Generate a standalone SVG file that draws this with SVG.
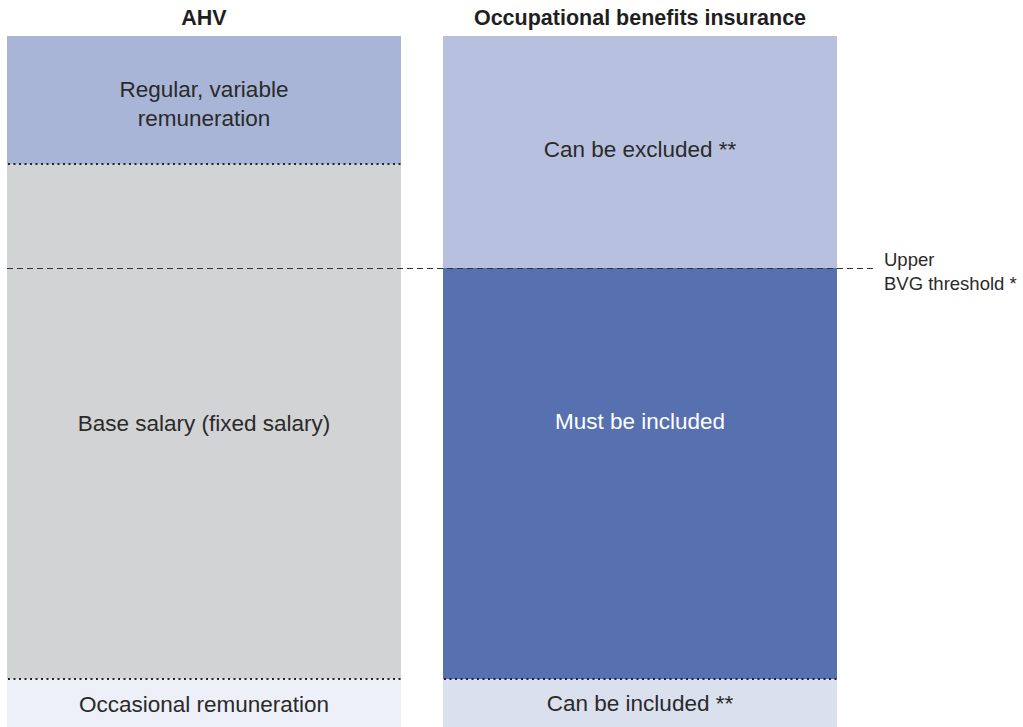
<svg xmlns="http://www.w3.org/2000/svg" width="1023" height="727" viewBox="0 0 1023 727">
  <style>
    .title { font-family: "Liberation Sans", Arial, sans-serif; font-size: 21.5px; font-weight: bold; fill: #1f1f1f; text-anchor: middle; }
    .label { font-family: "Liberation Sans", Arial, sans-serif; font-size: 22.5px; fill: #2a2a2a; text-anchor: middle; }
    .light { fill: #ffffff; }
    .note { font-family: "Liberation Sans", Arial, sans-serif; font-size: 18.5px; fill: #2a2a2a; }
    .dotted { stroke: #222; stroke-width: 2; stroke-dasharray: 2 3.5; fill: none; }
    .dashed { stroke: #333; stroke-width: 1; stroke-dasharray: 6 4; fill: none; }
  </style>
  <rect width="1023" height="727" fill="#ffffff"/>

  <text class="title" x="204" y="25">AHV</text>
  <text class="title" x="640" y="25">Occupational benefits insurance</text>

  <!-- AHV column -->
  <g id="ahv-variable">
    <rect x="7" y="36" width="394" height="128" fill="#a8b5d7"/>
    <text class="label" x="204" y="97">Regular, variable</text>
    <text class="label" x="204" y="126">remuneration</text>
  </g>
  <g id="ahv-base">
    <rect x="7" y="164" width="394" height="515" fill="#d2d3d5"/>
    <text class="label" x="204" y="431">Base salary (fixed salary)</text>
  </g>
  <g id="ahv-occasional">
    <rect x="7" y="679" width="394" height="48" fill="#edf0f8"/>
    <text class="label" x="204" y="712">Occasional remuneration</text>
  </g>

  <!-- Occupational benefits column -->
  <g id="bvg-excluded">
    <rect x="443" y="36" width="394" height="232" fill="#b7c1df"/>
    <text class="label" x="640" y="157">Can be excluded **</text>
  </g>
  <g id="bvg-mandatory">
    <rect x="443" y="268" width="394" height="411" fill="#5770b0"/>
    <text class="label light" x="640" y="429">Must be included</text>
  </g>
  <g id="bvg-included">
    <rect x="443" y="679" width="394" height="48" fill="#dbe0ee"/>
    <text class="label" x="640" y="711">Can be included **</text>
  </g>

  <!-- boundary lines -->
  <g id="connectors">
    <line class="dotted" x1="8" y1="164" x2="401" y2="164"/>
    <line class="dotted" x1="8" y1="679" x2="401" y2="679"/>
    <line class="dotted" x1="444" y1="679" x2="837" y2="679"/>
    <line class="dashed" x1="7" y1="268.5" x2="874" y2="268.5"/>
  </g>

  <g id="threshold-note">
    <text class="note" x="884" y="266">Upper</text>
    <text class="note" x="884" y="290">BVG threshold *</text>
  </g>
</svg>
